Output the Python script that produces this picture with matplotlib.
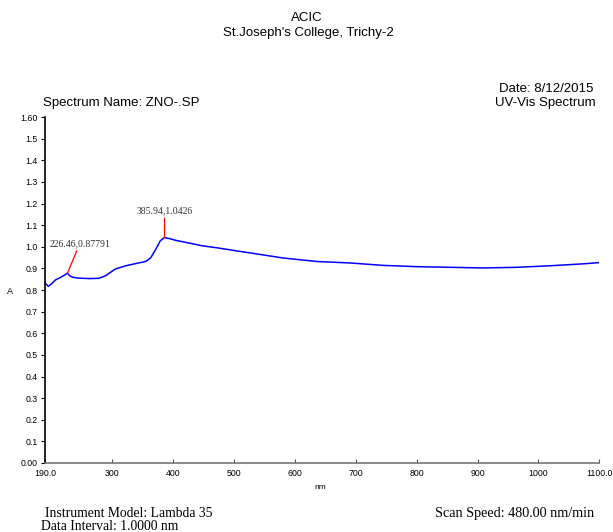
import matplotlib.pyplot as plt
import numpy as np

# ---- data (nm, absorbance) ----
wavelength = [190, 195, 200, 207, 215, 222, 226.46, 230, 235, 245, 262, 278, 289,
              305, 322, 338, 355, 363, 371, 379, 385.94, 395, 404, 425, 447, 475,
              502, 535, 581, 636, 691, 745, 800, 855, 909, 964, 1018, 1073, 1100]
absorbance = [0.832, 0.817, 0.828, 0.847, 0.858, 0.870, 0.8779, 0.866, 0.859, 0.855,
              0.853, 0.854, 0.866, 0.897, 0.912, 0.922, 0.932, 0.948, 0.986, 1.028,
              1.0426, 1.037, 1.030, 1.018, 1.005, 0.994, 0.982, 0.968, 0.948, 0.932,
              0.925, 0.914, 0.908, 0.905, 0.902, 0.905, 0.912, 0.921, 0.927]

peaks_x = [226.46, 385.94]
peaks_y = [0.87791, 1.0426]
peak_labels = ["226.46,0.87791", "385.94,1.0426"]

yticks = [0.0, 0.1, 0.2, 0.3, 0.4, 0.5, 0.6, 0.7, 0.8, 0.9, 1.0, 1.1, 1.2, 1.3, 1.4, 1.5, 1.6]
ytick_labels = ["0.00", "0.1", "0.2", "0.3", "0.4", "0.5", "0.6", "0.7", "0.8", "0.9",
                "1.0", "1.1", "1.2", "1.3", "1.4", "1.5", "1.60"]
xticks = [190, 300, 400, 500, 600, 700, 800, 900, 1000, 1100]
xtick_labels = ["190.0", "300", "400", "500", "600", "700", "800", "900", "1000", "1100.0"]

plt.rcParams["font.family"] = "Liberation Sans"

fig = plt.figure(figsize=(6.13, 5.32), dpi=100)
ax = fig.add_axes([0.0728, 0.1297, 0.905, 0.6503])

ax.plot(wavelength, absorbance, color="#0000ff", lw=1.1)

# peak markers
ax.annotate(peak_labels[0], xy=(peaks_x[0], peaks_y[0]), xytext=(247, 0.995),
            textcoords="data", ha="center", va="bottom", fontsize=7,
            family="Liberation Serif", color="#333333",
            arrowprops=dict(arrowstyle="-", color="red", lw=0.9, shrinkA=0, shrinkB=0))
ax.annotate(peak_labels[1], xy=(peaks_x[1], peaks_y[1]), xytext=(peaks_x[1], 1.145),
            textcoords="data", ha="center", va="bottom", fontsize=7,
            family="Liberation Serif", color="#333333",
            arrowprops=dict(arrowstyle="-", color="red", lw=0.9, shrinkA=0, shrinkB=0))

ax.set_xlim(189, 1100)
ax.set_ylim(0, 1.6)
ax.set_xticks(xticks)
ax.set_xticklabels(xtick_labels)
ax.set_yticks(yticks)
ax.set_yticklabels(ytick_labels)
ax.tick_params(axis="x", direction="in", length=3, labelsize=6.3, pad=4, color="#555555")
ax.tick_params(axis="y", direction="out", length=3, labelsize=6.3, pad=2)

for s in ["top", "right"]:
    ax.spines[s].set_visible(False)
ax.spines["bottom"].set_color("#777777")
ax.spines["bottom"].set_linewidth(1.2)
ax.spines["left"].set_linewidth(1.2)

ax.set_xlabel("nm", fontsize=6)
ax.xaxis.set_label_coords(0.497, -0.062)
ax.set_ylabel("A", fontsize=6.5, rotation=0)
ax.yaxis.set_label_coords(-0.062, 0.483)

# header / footer text
fig.text(0.5, 0.966, "ACIC", ha="center", va="center", fontsize=9.5)
fig.text(0.503, 0.938, "St.Joseph's College, Trichy-2", ha="center", va="center", fontsize=9.5)
fig.text(0.07, 0.806, "Spectrum Name: ZNO-.SP", ha="left", va="center", fontsize=9.5)
fig.text(0.968, 0.833, "Date: 8/12/2015", ha="right", va="center", fontsize=9.5)
fig.text(0.972, 0.806, "UV-Vis Spectrum", ha="right", va="center", fontsize=9.5)

fig.text(0.073, 0.035, "Instrument Model: Lambda 35", ha="left", va="center",
         fontsize=9.8, family="Liberation Serif")
fig.text(0.067, 0.011, "Data Interval: 1.0000 nm", ha="left", va="center",
         fontsize=9.8, family="Liberation Serif")
fig.text(0.97, 0.034, "Scan Speed: 480.00 nm/min", ha="right", va="center",
         fontsize=10.2, family="Liberation Serif")

fig.savefig("out.png", dpi=100)
